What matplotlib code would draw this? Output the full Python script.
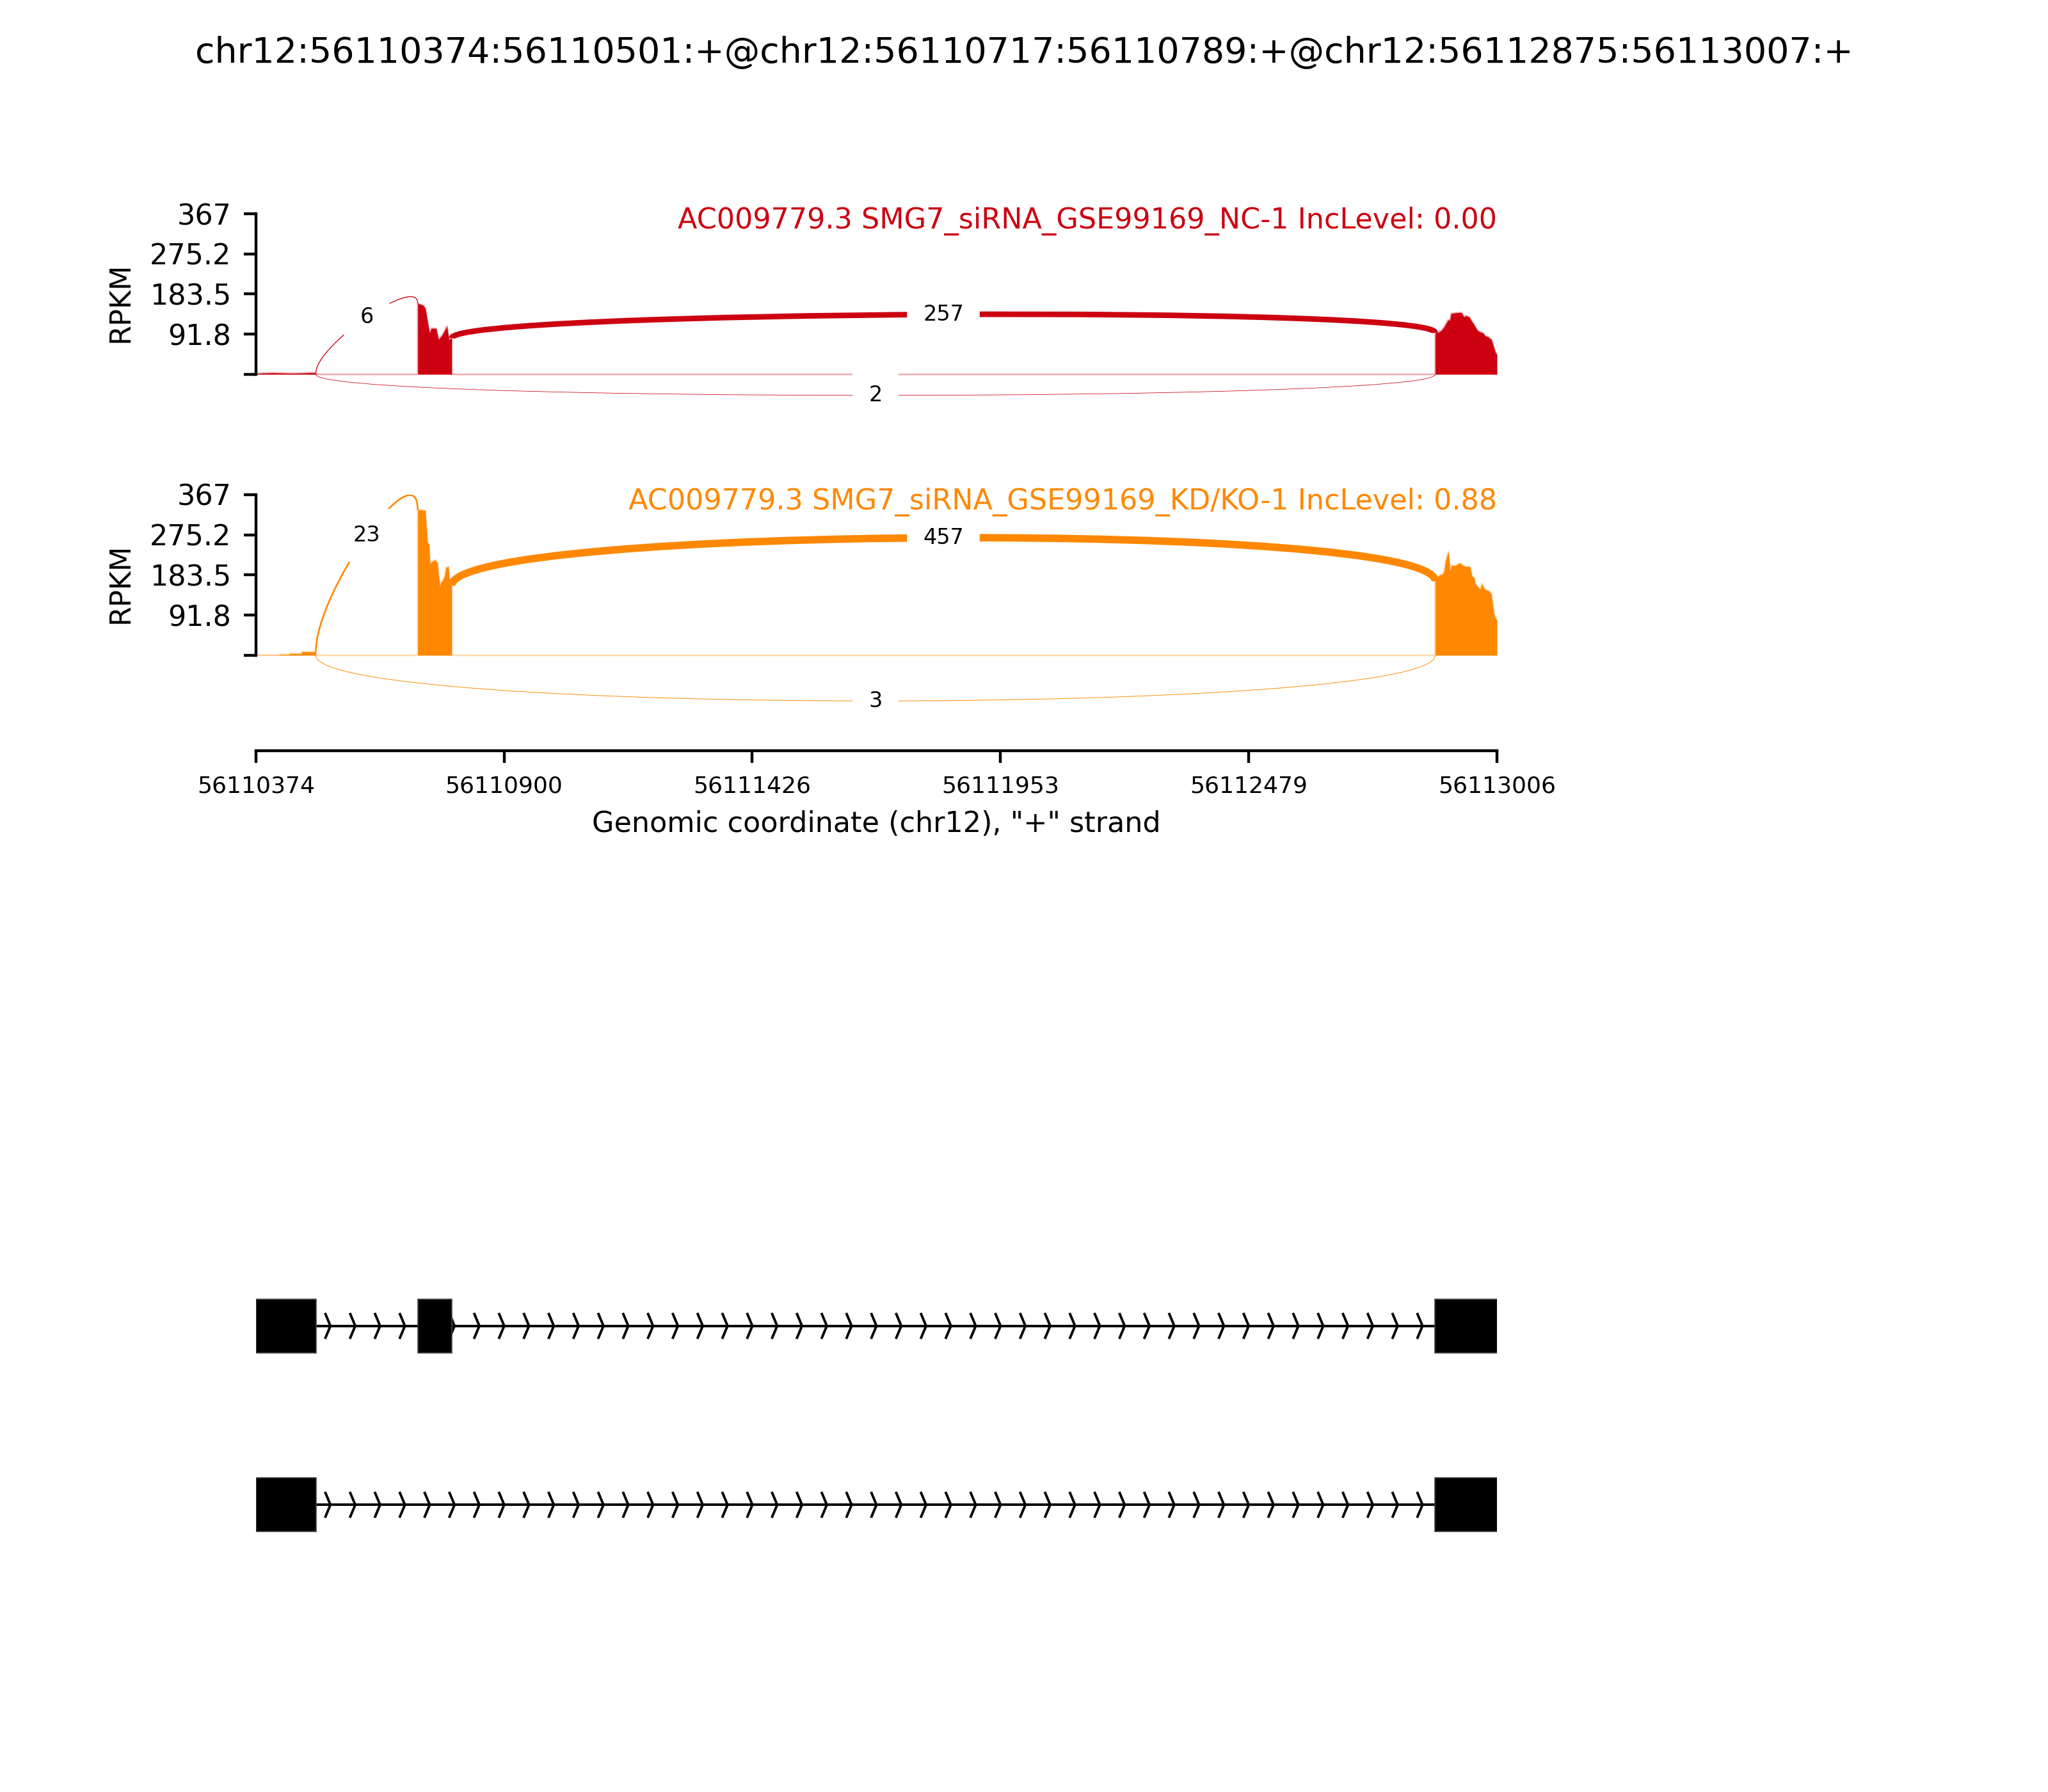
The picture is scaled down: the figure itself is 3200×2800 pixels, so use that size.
import numpy as np
import matplotlib
matplotlib.use("Agg")
import matplotlib.pyplot as plt
from matplotlib.path import Path
from matplotlib.patches import PathPatch, Rectangle

# ---- data ----
event_title = "chr12:56110374:56110501:+@chr12:56110717:56110789:+@chr12:56112875:56113007:+"
x_start, x_end = 56110374, 56113006
x_ticks = [56110374, 56110900, 56111426, 56111953, 56112479, 56113006]
x_tick_labels = ["56110374", "56110900", "56111426", "56111953", "56112479", "56113006"]
y_max = 367
y_ticks = [0, 91.8, 183.5, 275.2, 367]
y_tick_labels = ["", "91.8", "183.5", "275.2", "367"]

sample_labels = ["AC009779.3 SMG7_siRNA_GSE99169_NC-1 IncLevel: 0.00",
                 "AC009779.3 SMG7_siRNA_GSE99169_KD/KO-1 IncLevel: 0.88"]
sample_colors = ["#CC0011", "#FF8800"]

# coverage (RPKM) per exon segment: positions and values
nc_e1_pos = [56110374, 56110390, 56110410, 56110430, 56110450, 56110470, 56110485, 56110495, 56110501]
nc_e1_val = [2, 3, 3.5, 3, 2.5, 3, 3.5, 4, 3]
nc_e2_pos = [56110717, 56110720, 56110728, 56110733, 56110738, 56110742, 56110746, 56110756,
             56110761, 56110769, 56110779, 56110783, 56110789]
nc_e2_val = [163, 161, 158, 151, 119, 95, 105, 105, 80, 90, 110, 80, 83]
nc_e3_pos = [56112875, 56112881, 56112888, 56112895, 56112902, 56112906, 56112909, 56112915,
             56112924, 56112931, 56112936, 56112940, 56112947, 56112951, 56112958, 56112965,
             56112970, 56112976, 56112981, 56112988, 56112994, 56112999, 56113003, 56113006]
nc_e3_val = [95, 96, 100, 110, 124, 124, 139, 140, 141, 141, 131, 134, 131, 124, 112, 100,
             97, 95, 88, 85, 80, 63, 49, 46]

kd_e1_pos = [56110374, 56110424, 56110424, 56110445, 56110445, 56110471, 56110471, 56110501]
kd_e1_val = [0.5, 0.5, 2, 2, 4, 4, 8, 8]
kd_e2_pos = [56110717, 56110720, 56110725, 56110733, 56110735, 56110738, 56110741, 56110743,
             56110748, 56110754, 56110759, 56110761, 56110764, 56110766, 56110770, 56110774,
             56110777, 56110782, 56110784, 56110786, 56110789]
kd_e2_val = [332, 333, 332, 331, 298, 257, 254, 210, 215, 218, 210, 186, 157, 167, 171, 181,
             200, 203, 176, 162, 159]
kd_e3_pos = [56112875, 56112877, 56112882, 56112886, 56112891, 56112894, 56112897, 56112900,
             56112903, 56112905, 56112907, 56112909, 56112916, 56112920, 56112925, 56112929,
             56112934, 56112938, 56112947, 56112949, 56112953, 56112958, 56112960, 56112967,
             56112971, 56112974, 56112978, 56112982, 56112989, 56112994, 56112996, 56112998,
             56113000, 56113003, 56113006]
kd_e3_val = [167, 176, 181, 184, 186, 193, 215, 227, 237, 215, 191, 205, 205, 206, 210, 210,
             205, 203, 203, 201, 181, 176, 164, 154, 152, 164, 154, 150, 147, 140, 123, 108,
             94, 84, 81]

coverage = [
    [(nc_e1_pos, nc_e1_val), (nc_e2_pos, nc_e2_val), (nc_e3_pos, nc_e3_val)],
    [(kd_e1_pos, kd_e1_val), (kd_e2_pos, kd_e2_val), (kd_e3_pos, kd_e3_val)],
]

# junctions: (start, end, reads, on_top)
junctions = [
    [(56110501, 56110717, 6, True), (56110789, 56112875, 257, True), (56110501, 56112875, 2, False)],
    [(56110501, 56110717, 23, True), (56110789, 56112875, 457, True), (56110501, 56112875, 3, False)],
]
arc_height = [64, 139]  # bezier control height per sample

isoforms = [
    [(56110374, 56110501), (56110717, 56110789), (56112875, 56113007)],
    [(56110374, 56110501), (56112875, 56113007)],
]

# ---- figure ----
W, H = 3200, 2800
fig = plt.figure(figsize=(8, 7), dpi=400)

def px_axes(left, top, right, bottom):
    return fig.add_axes([left / W, 1 - bottom / H, (right - left) / W, (bottom - top) / H])

fig.text(0.5, 1 - 98 / H, event_title, ha="center", va="baseline", fontsize=10.0)

max_jxn = max(j[2] for js in junctions for j in js)
axes = [px_axes(400, 334, 2339, 734), px_axes(400, 773, 2339, 1173)]
for i, ax in enumerate(axes):
    color = sample_colors[i]
    xs, ys = [], []
    for pos, val in coverage[i]:
        xs += [pos[0]] + list(pos) + [pos[-1]]
        ys += [0] + list(val) + [0]
    xs = [x_start] + xs + [x_end]
    ys = [0] + ys + [0]
    ax.fill_between(xs, ys, 0, color=color, lw=0)
    ax.plot(xs, ys, color=color, lw=0.5, alpha=0.3)

    def dens(p):
        return np.interp(p, xs[1:-1], ys[1:-1])

    h = arc_height[i]
    for (s, e, n, top) in junctions[i]:
        if top:
            ld, rd = dens(s - 0.5), dens(e + 0.5)
            pts = [(s, ld), (s, ld + h), (e, rd + h), (e, rd)]
        else:
            pts = [(s, 0), (s, -h), (e, -h), (e, 0)]
        path = Path(pts, [Path.MOVETO, Path.CURVE4, Path.CURVE4, Path.CURVE4])
        ax.add_patch(PathPatch(path, ec=color, fc="none", lw=2.1 * np.sqrt(n / max_jxn)))
        mx = (pts[0][0] + 3 * pts[1][0] + 3 * pts[2][0] + pts[3][0]) / 8
        my = (pts[0][1] + 3 * pts[1][1] + 3 * pts[2][1] + pts[3][1]) / 8
        ax.text(mx, my, str(n), fontsize=6, ha="center", va="center", backgroundcolor="w")

    ax.set_xlim(x_start, x_end)
    ax.set_ylim(-218, y_max)
    ax.spines["top"].set_visible(False)
    ax.spines["right"].set_visible(False)
    ax.spines["left"].set_bounds(0, y_max)
    ax.set_yticks(y_ticks)
    ax.set_yticklabels(y_tick_labels, fontsize=8)
    ax.set_ylabel("RPKM", fontsize=8)
    ax.yaxis.set_label_coords(-0.098, 0.653)
    ax.annotate(sample_labels[i], xy=(x_end, y_max), xytext=(0, -4.1), textcoords="offset points",
                ha="right", va="baseline", color=color, fontsize=8)
    if i < len(axes) - 1:
        ax.spines["bottom"].set_visible(False)
        ax.set_xticks([])
    else:
        ax.set_xticks(x_ticks)
        ax.set_xticklabels(x_tick_labels, fontsize=6.5)
        ax.set_xlabel('Genomic coordinate (chr12), "+" strand', fontsize=8, va="baseline")
        ax.xaxis.set_label_coords(0.5, -0.3175)

# gene track
gx = px_axes(400, 1932, 2339, 2491)
exon_h = 0.3
narrows = 50
span = x_end - x_start
for row, exons in enumerate(isoforms):
    gx.plot([exons[0][0], exons[-1][1]], [row, row], color="k", lw=0.7, zorder=1)
    spread = 0.2 * span / narrows
    for k in range(narrows):
        loc = x_start + k * span / narrows
        gx.plot([loc - spread, loc, loc - spread], [row - 0.066, row, row + 0.066],
                color="k", lw=0.7, zorder=1)
    for s, e in exons:
        gx.add_patch(Rectangle((s, row - exon_h / 2), e - s, exon_h, fc="k", ec="#444444",
                               lw=0.3, zorder=2))
gx.set_xlim(x_start, x_end)
gx.set_ylim(1.5, -0.5)
gx.axis("off")

fig.savefig("out.png", dpi=400)
